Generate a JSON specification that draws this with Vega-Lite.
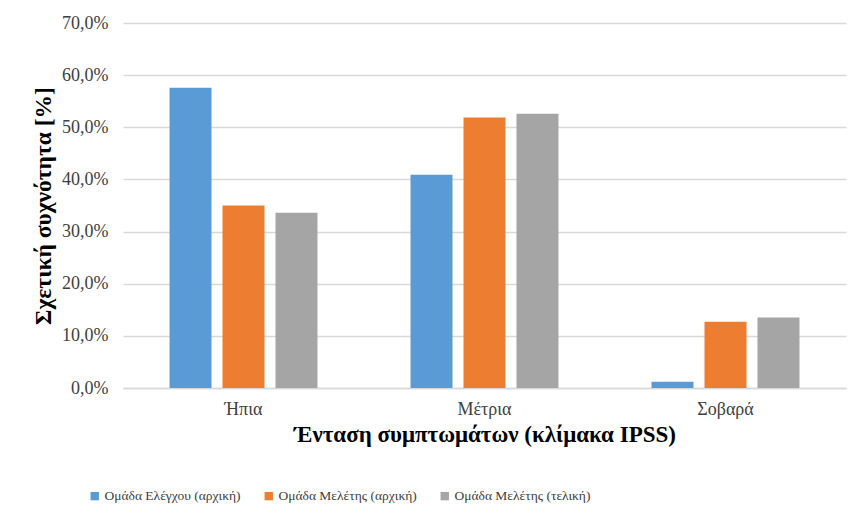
{
  "$schema": "https://vega.github.io/schema/vega-lite/v6.json",
  "width": 723,
  "height": 365,
  "autosize": {"type": "none"},
  "padding": {"left": 123, "top": 23, "right": 19, "bottom": 136},
  "background": "white",
  "data": {
    "values": [
      {"cat": "Ήπια", "group": "Ομάδα Ελέγχου (αρχική)", "value": 0.576},
      {"cat": "Ήπια", "group": "Ομάδα Μελέτης (αρχική)", "value": 0.350},
      {"cat": "Ήπια", "group": "Ομάδα Μελέτης (τελική)", "value": 0.336},
      {"cat": "Μέτρια", "group": "Ομάδα Ελέγχου (αρχική)", "value": 0.409},
      {"cat": "Μέτρια", "group": "Ομάδα Μελέτης (αρχική)", "value": 0.519},
      {"cat": "Μέτρια", "group": "Ομάδα Μελέτης (τελική)", "value": 0.526},
      {"cat": "Σοβαρά", "group": "Ομάδα Ελέγχου (αρχική)", "value": 0.012},
      {"cat": "Σοβαρά", "group": "Ομάδα Μελέτης (αρχική)", "value": 0.127},
      {"cat": "Σοβαρά", "group": "Ομάδα Μελέτης (τελική)", "value": 0.135}
    ]
  },
  "mark": {"type": "bar"},
  "encoding": {
    "x": {
      "field": "cat",
      "type": "nominal",
      "sort": ["Ήπια", "Μέτρια", "Σοβαρά"],
      "scale": {"paddingInner": 0.386, "paddingOuter": 0.193},
      "axis": {
        "title": "Ένταση συμπτωμάτων (κλίμακα IPSS)",
        "titleFontSize": 23,
        "titleFontWeight": "bold",
        "titleColor": "#000000",
        "titlePadding": 5,
        "labelFontSize": 18,
        "labelColor": "#404040",
        "labelAngle": 0,
        "labelPadding": 12,
        "ticks": false,
        "domain": true,
        "domainColor": "#d9d9d9",
        "domainWidth": 1.5,
        "grid": false
      }
    },
    "xOffset": {
      "field": "group",
      "type": "nominal",
      "sort": ["Ομάδα Ελέγχου (αρχική)", "Ομάδα Μελέτης (αρχική)", "Ομάδα Μελέτης (τελική)"],
      "scale": {"paddingInner": 0.2075, "paddingOuter": 0}
    },
    "y": {
      "field": "value",
      "type": "quantitative",
      "scale": {"domain": [0, 0.7], "nice": false},
      "axis": {
        "title": "Σχετική συχνότητα [%]",
        "titleFontSize": 23.5,
        "titleFontWeight": "bold",
        "titleColor": "#000000",
        "titlePadding": 6,
        "values": [0, 0.1, 0.2, 0.3, 0.4, 0.5, 0.6, 0.7],
        "labelExpr": "replace(format(datum.value, '.1%'), '.', ',')",
        "labelFontSize": 18,
        "labelColor": "#404040",
        "labelPadding": 15,
        "ticks": false,
        "domain": false,
        "grid": true,
        "gridColor": "#d9d9d9",
        "gridWidth": 1.5
      }
    },
    "color": {
      "field": "group",
      "type": "nominal",
      "scale": {
        "domain": ["Ομάδα Ελέγχου (αρχική)", "Ομάδα Μελέτης (αρχική)", "Ομάδα Μελέτης (τελική)"],
        "range": ["#5B9BD5", "#ED7D31", "#A5A5A5"]
      },
      "legend": {
        "title": null,
        "orient": "none",
        "direction": "horizontal",
        "legendX": -35,
        "legendY": 466,
        "symbolType": "square",
        "symbolSize": 70,
        "symbolStrokeWidth": 0,
        "labelFontSize": 13.5,
        "labelColor": "#404040",
        "labelOffset": 3,
        "columnPadding": 21
      }
    }
  },
  "config": {
    "font": "Liberation Serif",
    "axis": {"labelFont": "Liberation Serif", "titleFont": "Liberation Serif"},
    "legend": {"labelFont": "Liberation Serif"},
    "view": {"stroke": null}
  }
}
